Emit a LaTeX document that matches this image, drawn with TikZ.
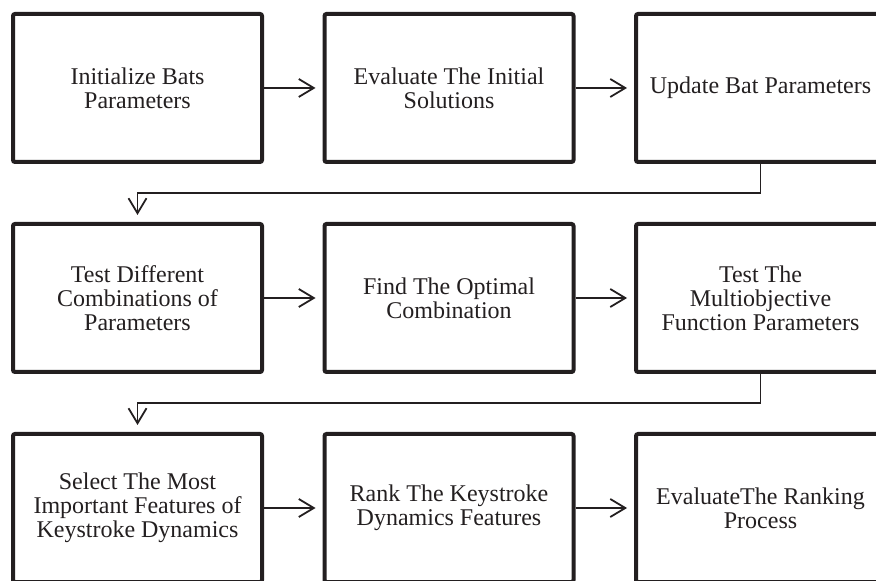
\documentclass[tikz,border=0pt]{standalone}
\usepackage{fontspec}
\setmainfont{Liberation Serif}
\usetikzlibrary{arrows.meta,positioning}
\definecolor{inkblack}{RGB}{35,31,32}
\tikzset{
  stagebox/.style={rectangle, rounded corners=1pt, draw=inkblack, line width=2pt,
                   minimum width=124.5pt, minimum height=74pt, inner sep=2pt,
                   align=center, text=inkblack,
                   font=\fontsize{12}{12}\selectfont},
  flow/.style={-{Straight Barb[length=7.5pt,width=9pt]}, line width=0.9pt,
               draw=inkblack, shorten >=3.5pt},
}

\begin{document}
\begin{tikzpicture}
  \useasboundingbox (0,0) rectangle (438pt,-290.5pt);
  \clip (0,0) rectangle (438pt,-290.5pt);

  % ---- first row ----------------------------------------------------------
  \node[stagebox] (init) at (68.75pt,-44pt) {Initialize Bats\\Parameters};
  \node[stagebox, right=29.25pt of init] (evalinit) {Evaluate The Initial\\Solutions};
  \node[stagebox, right=29.25pt of evalinit] (update) {Update Bat Parameters};

  % ---- second row ---------------------------------------------------------
  \node[stagebox, below=29pt of init] (testcomb) {Test Different\\Combinations of\\Parameters};
  \node[stagebox, right=29.25pt of testcomb] (optimal) {Find The Optimal\\Combination};
  \node[stagebox, right=29.25pt of optimal] (multiobj) {Test The\\Multiobjective\\Function Parameters};

  % ---- third row ----------------------------------------------------------
  \node[stagebox, below=29pt of testcomb] (select) {Select The Most\\Important Features of\\Keystroke Dynamics};
  \node[stagebox, right=29.25pt of select] (rank) {Rank The Keystroke\\Dynamics Features};
  \node[stagebox, right=29.25pt of rank] (evalrank) {EvaluateThe Ranking\\Process};

  % ---- connectors ---------------------------------------------------------
  \draw[flow] (init) -- (evalinit);
  \draw[flow] (evalinit) -- (update);
  \draw[flow] (update.south) -- ++(0,-14.5pt) -| (testcomb.north);
  \draw[flow] (testcomb) -- (optimal);
  \draw[flow] (optimal) -- (multiobj);
  \draw[flow] (multiobj.south) -- ++(0,-14.5pt) -| (select.north);
  \draw[flow] (select) -- (rank);
  \draw[flow] (rank) -- (evalrank);
\end{tikzpicture}
\end{document}
